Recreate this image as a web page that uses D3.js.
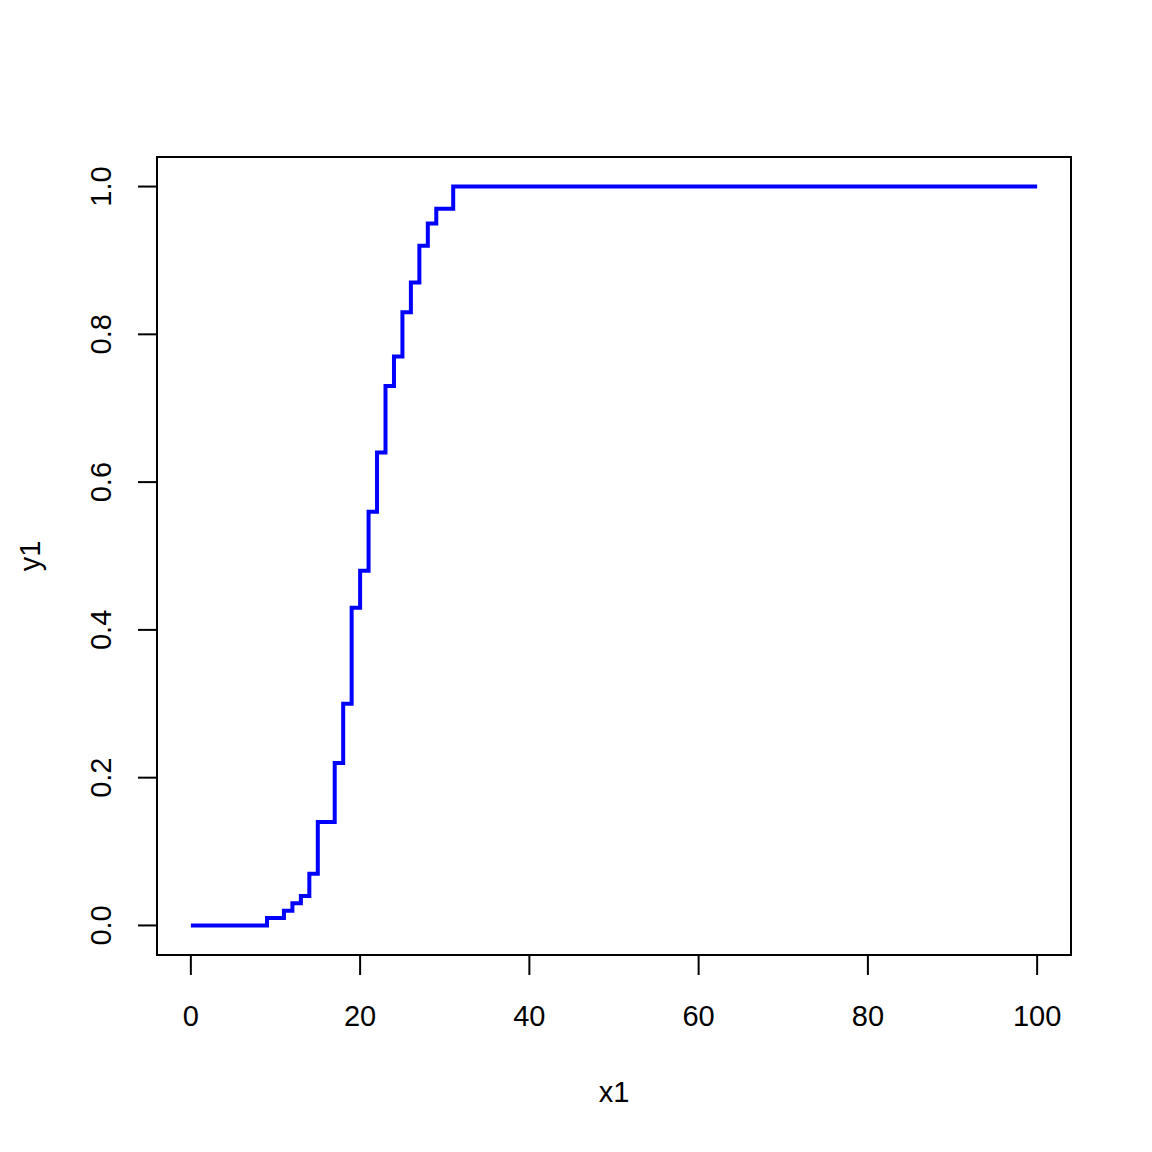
<!DOCTYPE html>
<html><head><meta charset="utf-8">
<script src="https://cdn.jsdelivr.net/npm/d3@7"></script>
<style>body{margin:0;background:#fff;} text{font-family:"Liberation Sans",Arial,sans-serif;}</style>
</head><body>
<script>
// step points (x1, y1) where the curve changes level
const xValues = [0, 9, 11, 12, 13, 14, 15, 17, 18, 19, 20, 21, 22, 23, 24, 25, 26, 27, 28, 29, 31, 100];
const yValues = [0, 0.01, 0.02, 0.03, 0.04, 0.07, 0.14, 0.22, 0.30, 0.43, 0.48, 0.56, 0.64, 0.73, 0.77, 0.83, 0.87, 0.92, 0.95, 0.97, 1.0, 1.0];
const xTicks = [0, 20, 40, 60, 80, 100];
const yTicks = [0, 0.2, 0.4, 0.6, 0.8, 1.0];
const xLabel = "x1", yLabel = "y1";

const W = 1152, H = 1152;
const L = 157, R = 1071, T = 157, B = 955;
const svg = d3.select("body").append("svg").attr("width", W).attr("height", H);
const x = d3.scaleLinear().domain([-4, 104]).range([L, R]);
const y = d3.scaleLinear().domain([-0.04, 1.04]).range([B, T]);
const data = xValues.map((v, i) => [v, yValues[i]]);

svg.append("path").datum(data)
  .attr("fill", "none").attr("stroke", "#0000FF").attr("stroke-width", 4)
  .attr("d", d3.line().x(d => x(d[0])).y(d => y(d[1])).curve(d3.curveStepAfter));

svg.append("rect").attr("x", L).attr("y", T).attr("width", R - L).attr("height", B - T)
  .attr("fill", "none").attr("stroke", "#000").attr("stroke-width", 2);

const fs = 29;
// x axis
const gx = svg.append("g");
gx.append("line").attr("x1", x(0)).attr("x2", x(100)).attr("y1", B).attr("y2", B).attr("stroke", "#000").attr("stroke-width", 2);
xTicks.forEach(t => {
  gx.append("line").attr("x1", x(t)).attr("x2", x(t)).attr("y1", B).attr("y2", B + 20).attr("stroke", "#000").attr("stroke-width", 2);
  gx.append("text").attr("x", x(t)).attr("y", 1026).attr("text-anchor", "middle").attr("font-size", fs).text(t);
});
// y axis
const gy = svg.append("g");
yTicks.forEach(t => {
  gy.append("line").attr("x1", L).attr("x2", L - 19).attr("y1", y(t)).attr("y2", y(t)).attr("stroke", "#000").attr("stroke-width", 2);
  gy.append("text").attr("transform", `translate(111,${y(t)}) rotate(-90)`).attr("text-anchor", "middle").attr("font-size", fs).text(t.toFixed(1));
});
svg.append("text").attr("x", (L + R) / 2).attr("y", 1102).attr("text-anchor", "middle").attr("font-size", fs).text(xLabel);
svg.append("text").attr("transform", `translate(40,${(T + B) / 2}) rotate(-90)`).attr("text-anchor", "middle").attr("font-size", fs).text(yLabel);
</script>
</body></html>
